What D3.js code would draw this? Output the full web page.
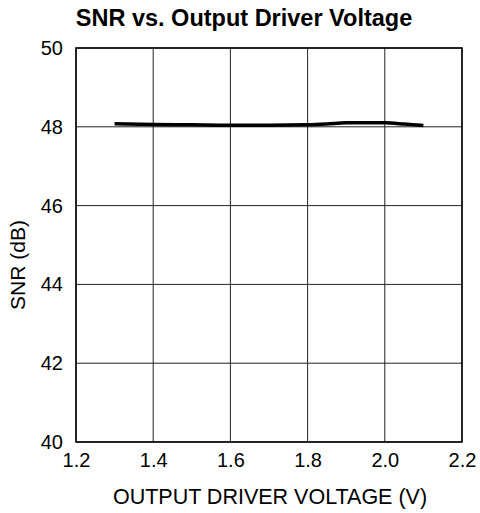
<!DOCTYPE html>
<html>
<head>
<meta charset="utf-8">
<script src="https://cdn.jsdelivr.net/npm/d3@7"></script>
<style>
  body { margin: 0; background: #fff; }
  svg { font-family: "Liberation Sans", Arial, sans-serif; }
</style>
</head>
<body>
<svg id="chart"></svg>
<script>
// Données
const voltage = [1.3, 1.4, 1.5, 1.6, 1.7, 1.8, 1.85, 1.9, 2.0, 2.05, 2.1];
const snr = [48.08, 48.06, 48.05, 48.04, 48.04, 48.05, 48.07, 48.1, 48.1, 48.07, 48.03];
const xTicks = [1.2, 1.4, 1.6, 1.8, 2.0, 2.2];
const yTicks = [40, 42, 44, 46, 48, 50];

const width = 480, height = 513;
const margin = { top: 48, right: 18, bottom: 71, left: 76 };
const innerW = width - margin.left - margin.right;
const innerH = height - margin.top - margin.bottom;

const svg = d3.select("#chart").attr("width", width).attr("height", height);

const g = svg.append("g").attr("transform", `translate(${margin.left}, ${margin.top})`);

const xScale = d3.scaleLinear().domain([1.2, 2.2]).range([0, innerW]);
const yScale = d3.scaleLinear().domain([40, 50]).range([innerH, 0]);

// Grille
g.append("g")
  .selectAll("line")
  .data(xTicks)
  .enter().append("line")
  .attr("x1", d => xScale(d)).attr("x2", d => xScale(d))
  .attr("y1", 0).attr("y2", innerH)
  .attr("stroke", "#222").attr("stroke-width", 1);

g.append("g")
  .selectAll("line")
  .data(yTicks)
  .enter().append("line")
  .attr("x1", 0).attr("x2", innerW)
  .attr("y1", d => yScale(d)).attr("y2", d => yScale(d))
  .attr("stroke", "#222").attr("stroke-width", 1);

// Cadre
g.append("rect")
  .attr("width", innerW).attr("height", innerH)
  .attr("fill", "none").attr("stroke", "#000").attr("stroke-width", 1.5);

// Axes
const xAxis = d3.axisBottom(xScale).tickValues(xTicks).tickSize(0).tickPadding(11).tickFormat(d3.format(".1f"));
const yAxis = d3.axisLeft(yScale).tickValues(yTicks).tickSize(0).tickPadding(13);

g.append("g")
  .attr("transform", `translate(0, ${innerH})`)
  .call(xAxis)
  .call(s => s.select(".domain").remove())
  .selectAll("text")
  .attr("font-size", 20).attr("fill", "#000").attr("font-family", "Liberation Sans, Arial, sans-serif");

g.append("g")
  .call(yAxis)
  .call(s => s.select(".domain").remove())
  .selectAll("text")
  .attr("font-size", 20).attr("fill", "#000").attr("font-family", "Liberation Sans, Arial, sans-serif");

// Courbe
const line = d3.line()
  .x((d, i) => xScale(voltage[i]))
  .y(d => yScale(d))
  .curve(d3.curveMonotoneX);

g.append("path")
  .datum(snr)
  .attr("d", line)
  .attr("fill", "none")
  .attr("stroke", "#000")
  .attr("stroke-width", 3.5);

// Titres
svg.append("text")
  .attr("x", 244).attr("y", 26)
  .attr("text-anchor", "middle")
  .attr("font-size", 23.5).attr("font-weight", "bold")
  .text("SNR vs. Output Driver Voltage");

svg.append("text")
  .attr("x", 270).attr("y", 504)
  .attr("text-anchor", "middle")
  .attr("font-size", 21.5)
  .text("OUTPUT DRIVER VOLTAGE (V)");

svg.append("text")
  .attr("transform", "translate(25, 265) rotate(-90)")
  .attr("text-anchor", "middle")
  .attr("font-size", 21)
  .text("SNR (dB)");
</script>
</body>
</html>
